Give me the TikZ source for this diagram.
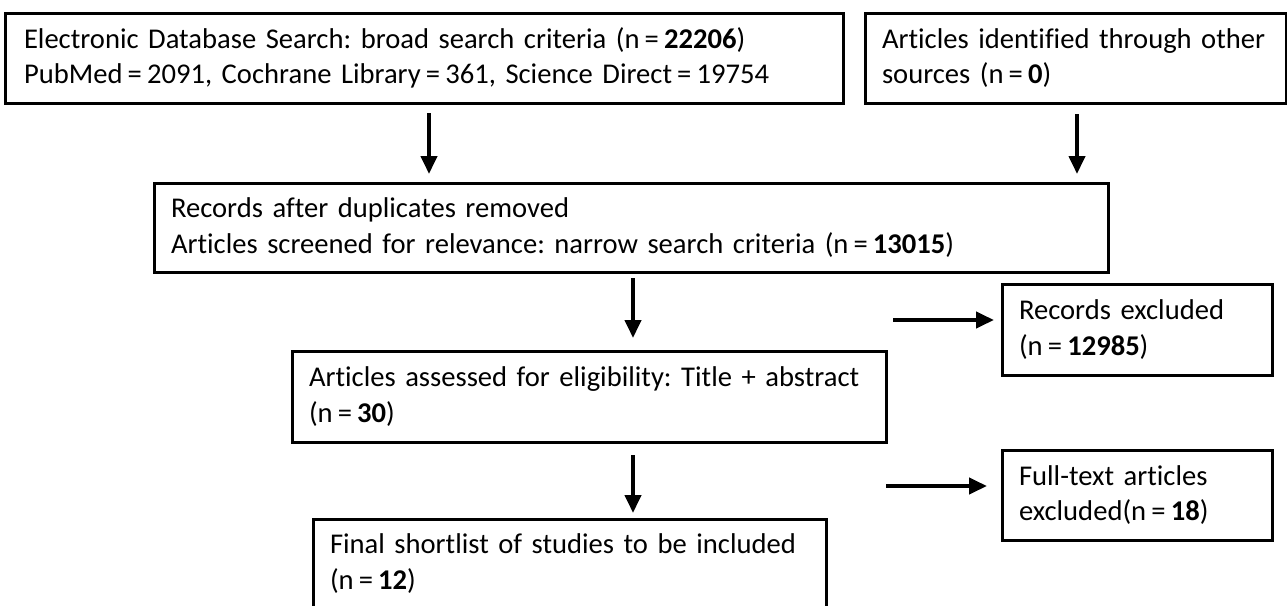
\documentclass[tikz,border=0pt]{standalone}
\usepackage{fontspec}
\setmainfont{Carlito}[Ligatures=NoCommon, WordSpace=0.9]
\usetikzlibrary{arrows.meta}
\newcommand{\eqsign}{\hspace{0.18em}=\hspace{0.18em}}
\tikzset{
  box/.style={draw, line width=3pt, anchor=north west, inner xsep=17pt, inner ysep=0pt, outer sep=0pt,
    align=left, font=\fontsize{28.6}{35.5}\selectfont\frenchspacing},
  arr/.style={line width=4pt, -{Triangle[width=16pt,length=18pt]}}
}
\begin{document}
\begin{tikzpicture}[x=1pt,y=-1pt]
\useasboundingbox (0,0) rectangle (1287,605);
\clip (0,0) rectangle (1287,605);
\node[box, inner xsep=19pt, minimum width=838pt, minimum height=90pt, text width=800pt] (b1) at (5,13)
  {\mbox{Electronic Database Search: broad search criteria (n\eqsign\textbf{22206})}\\
   \mbox{PubMed\eqsign 2091, Cochrane Library\eqsign 361, Science Direct\eqsign 19754}};
\node[box, minimum width=421pt, minimum height=90pt, text width=387pt] (b2) at (865,13)
  {\mbox{Articles identified through other}\\ \mbox{sources (n\eqsign\textbf{0})}};
\node[box, minimum width=954pt, minimum height=89pt, text width=920pt] (b3) at (154,183)
  {\mbox{Records after duplicates removed}\\
   \mbox{Articles screened for relevance: narrow search criteria (n\eqsign\textbf{13015})}};
\node[box, minimum width=594pt, minimum height=91pt, text width=560pt] (b4) at (292,351)
  {\mbox{Articles assessed for eligibility: Title + abstract}\\ \mbox{(n\eqsign\textbf{30})}};
\node[box, minimum width=513pt, minimum height=89pt, text width=479pt] (b5) at (313,519)
  {\mbox{Final shortlist of studies to be included}\\ \mbox{(n\eqsign\textbf{12})}};
\node[box, minimum width=270pt, minimum height=91pt, text width=236pt] (rec) at (1002,284)
  {\mbox{Records excluded}\\ \mbox{(n\eqsign\textbf{12985})}};
\node[box, minimum width=270pt, minimum height=90pt, text width=236pt] (full) at (1002,450)
  {\mbox{Full-text articles}\\ \mbox{excluded(n\eqsign\textbf{18})}};
\coordinate (xa) at (429,0);
\coordinate (xb) at (1077,0);
\coordinate (xc) at (633,0);
\coordinate (r0) at (893,320);
\coordinate (f0) at (886,486);
\draw[arr, shorten <=10pt, shorten >=9pt] (b1.south -| xa) -- (b3.north -| xa);
\draw[arr, shorten <=11pt, shorten >=9pt] (b2.south -| xb) -- (b3.north -| xb);
\draw[arr, shorten <=6pt, shorten >=13pt] (b3.south -| xc) -- (b4.north -| xc);
\draw[arr, shorten <=13pt, shorten >=6pt] (b4.south -| xc) -- (b5.north -| xc);
\draw[arr, shorten >=8pt] (r0) -- (r0 -| rec.west);
\draw[arr, shorten >=15pt] (f0) -- (f0 -| full.west);
\end{tikzpicture}
\end{document}
